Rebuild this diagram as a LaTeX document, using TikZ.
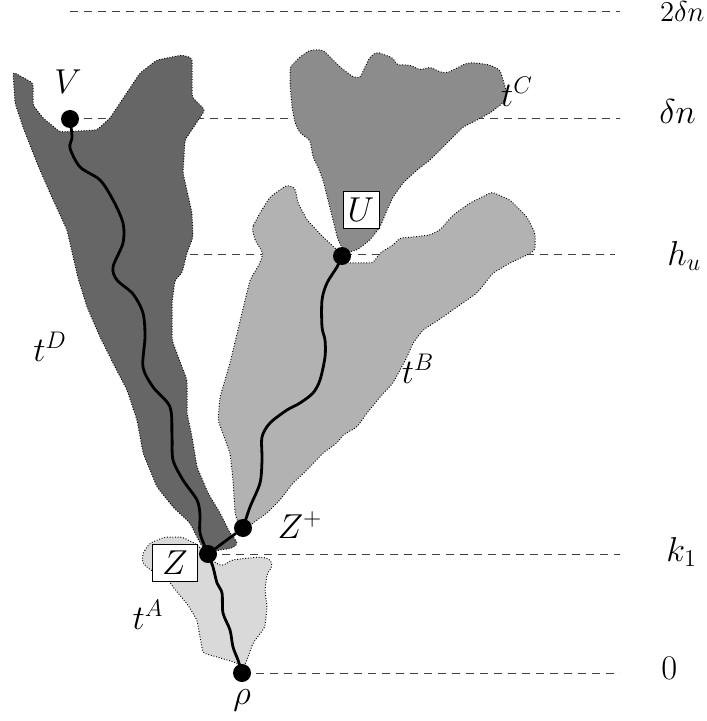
\documentclass[tikz,border=0pt]{standalone}
\pgfdeclarelayer{levels}
\pgfdeclarelayer{regions}
\pgfsetlayers{levels,regions,main}
\begin{document}
\begin{tikzpicture}[x=0.5pt,y=-0.5pt,
  region/.style={draw=black, line width=0.5pt, dash pattern=on 0.45pt off 0.9pt, rounded corners=1.5pt},
  level/.style={draw=black!75, line width=0.5pt, dash pattern=on 4pt off 3pt},
  walk/.style={line width=1.4pt, line join=round, line cap=round},
  dot/.style={circle, fill=black, inner sep=0pt, minimum size=9pt},
  lab/.style={font=\LARGE, inner sep=0pt},
  box/.style={draw, fill=white, line width=0.5pt, inner sep=0pt, font=\LARGE}]
\useasboundingbox (0,0) rectangle (706,721);

% dots
\node[dot] (V) at (70,119) {};
\node[dot] (U) at (342,256) {};
\node[dot] (Zp) at (243,528) {};
\node[dot] (Z) at (208,554) {};
\node[dot] (rho) at (242,673) {};

% level ends
\coordinate (a2) at (70,12);
\coordinate (b2) at (620,12);
\coordinate (b1) at (620,119);
\coordinate (ah) at (120,255);
\coordinate (bh) at (615,255);
\coordinate (bk) at (620,554);
\coordinate (b0) at (620,673);

% level labels
\node[lab, font=\Large, anchor=base east] (l2dn) at (705,22) {$2\delta n$};
\node[lab, anchor=base west] (ldn) at (659,124) {$\delta n$};
\node[lab, anchor=base west] (lhu) at (667,265) {$h_u$};
\node[lab, anchor=base west] (lk1) at (666,561) {$k_1$};
\node[lab, anchor=base west] (l0) at (661,679) {$0$};

\begin{pgfonlayer}{levels}
\draw[level] (a2) -- (b2);
\draw[level] (V.center) -- (b1);
\draw[level] (ah) -- (bh);
\draw[level] (Z.center) -- (bk);
\draw[level] (rho.center) -- (b0);
\end{pgfonlayer}

\begin{pgfonlayer}{regions}
% t^A
\path[region, fill=black!15] (143,553) -- (150,543) -- (165,537) -- (182,537) -- (196,544) -- (205,552) -- (214,562) -- (222,566) -- (232,560) -- (248,558) -- (263,557) -- (271,560) -- (272,567) -- (267,574) -- (265,590) -- (267,607) -- (265,627) -- (253,643) -- (247,660) -- (242,670) -- (237,663) -- (217,657) -- (203,653) -- (200,637) -- (197,620) -- (188,605) -- (173,587) -- (165,575) -- (150,570) -- (142,562) -- cycle;
% t^B
\path[region, fill=black!30] (252,228) -- (260,213) -- (270,197) -- (287,185) -- (295,188) -- (298,203) -- (307,220) -- (323,237) -- (337,250) -- (347,263) -- (373,263) -- (380,253) -- (393,245) -- (400,238) -- (413,237) -- (430,235) -- (440,230) -- (453,215) -- (470,203) -- (492,192) -- (510,200) -- (527,217) -- (535,233) -- (535,250) -- (527,255) -- (510,263) -- (493,273) -- (477,293) -- (457,307) -- (443,317) -- (423,330) -- (413,343) -- (407,357) -- (400,370) -- (393,383) -- (380,397) -- (367,413) -- (357,427) -- (343,435) -- (337,443) -- (323,453) -- (307,470) -- (293,483) -- (280,500) -- (267,513) -- (253,523) -- (243,532) -- (237,520) -- (235,513) -- (233,480) -- (230,453) -- (218,420) -- (220,397) -- (230,363) -- (242,313) -- (250,280) -- (260,263) -- (263,253) -- (255,240) -- cycle;
% t^C
\path[region, fill=black!45] (345,253) -- (338,240) -- (333,220) -- (328,200) -- (323,180) -- (318,167) -- (313,157) -- (310,140) -- (300,133) -- (295,123) -- (292,107) -- (290,83) -- (290,67) -- (300,57) -- (310,50) -- (323,50) -- (340,67) -- (353,77) -- (360,78) -- (365,67) -- (370,57) -- (377,52) -- (393,58) -- (397,65) -- (410,65) -- (420,70) -- (430,67) -- (440,72) -- (447,73) -- (457,68) -- (467,63) -- (477,63) -- (490,65) -- (500,70) -- (503,80) -- (507,93) -- (503,103) -- (490,113) -- (477,120) -- (463,127) -- (450,140) -- (430,160) -- (417,170) -- (403,183) -- (393,197) -- (387,210) -- (380,227) -- (370,240) -- (357,250) -- cycle;
% t^D
\path[region, fill=black!60] (13,72) -- (33,83) -- (33,105) -- (43,118) -- (60,132) -- (97,130) -- (110,118) -- (140,73) -- (157,60) -- (182,55) -- (192,58) -- (192,97) -- (205,110) -- (185,140) -- (183,173) -- (192,213) -- (193,237) -- (187,253) -- (182,273) -- (175,280) -- (172,303) -- (172,340) -- (182,367) -- (187,380) -- (187,413) -- (192,437) -- (197,467) -- (208,493) -- (220,513) -- (230,533) -- (238,543) -- (233,548) -- (220,550) -- (207,553) -- (200,543) -- (190,523) -- (173,507) -- (157,487) -- (143,453) -- (137,420) -- (127,390) -- (113,363) -- (100,337) -- (87,307) -- (78,278) -- (67,230) -- (50,193) -- (37,163) -- (23,127) -- (15,103) -- cycle;
\end{pgfonlayer}

% walks
\draw[walk] plot[smooth, tension=0.5] coordinates {(V.center) (72,137) (70,148) (80,167) (100,180) (113,200) (123,223) (123,243) (113,267) (117,280) (133,294) (143,313) (145,337) (143,367) (153,387) (170,407) (172,437) (173,460) (183,480) (197,500) (200,515) (200,533) (Z.center)};
\draw[walk] plot[smooth, tension=0.5] coordinates {(Zp.center) (250,507) (260,483) (262,460) (262,437) (270,423) (287,410) (300,403) (313,393) (320,380) (325,357) (325,340) (322,327) (322,300) (327,283) (337,267) (U.center)};
\draw[walk] plot[smooth, tension=0.5] coordinates {(Z.center) (213,567) (217,583) (222,593) (223,613) (230,630) (233,647) (238,660) (rho.center)};
\draw[walk] (Z) -- (Zp);

% boxed labels
\node[box, minimum width=22.5pt, minimum height=18.5pt] (Zb) at (175,563) {$Z$};
\node[box, minimum width=18pt, minimum height=18.5pt] (Ub) at (361,210) {$U$};

% labels
\node[lab] (lV) at (68,82) {$V$};
\node[lab] (lD) at (50,347) {$t^D$};
\node[lab] (lC) at (517,92) {$t^C$};
\node[lab] (lB) at (418,369) {$t^B$};
\node[lab] (lZp) at (300,525) {$Z^+$};
\node[lab] (lA) at (148,615) {$t^A$};
\node[lab] (lrho) at (242,700) {$\rho$};
\end{tikzpicture}
\end{document}
